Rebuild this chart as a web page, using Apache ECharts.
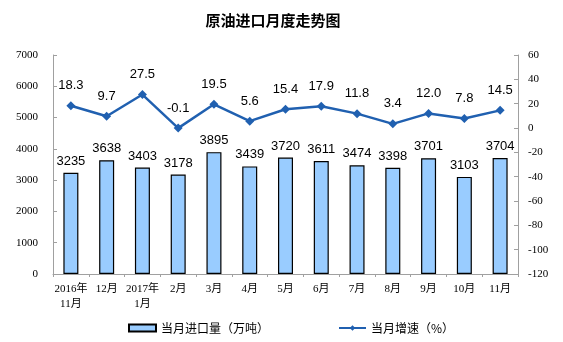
<!DOCTYPE html>
<html>
<head>
<meta charset="utf-8">
<script src="https://cdn.jsdelivr.net/npm/echarts@6/dist/echarts.min.js"></script>
<style>
html,body{margin:0;padding:0;background:#fff;}
#chart{width:563px;height:342px;}
</style>
</head>
<body>
<div id="chart"></div>
<script>
// Monthly crude oil imports (10k tonnes) and year-on-year growth (%)
const months = ['2016年\n11月', '12月', '2017年\n1月', '2月', '3月', '4月', '5月', '6月', '7月', '8月', '9月', '10月', '11月'];
const importVolume = [3235, 3638, 3403, 3178, 3895, 3439, 3720, 3611, 3474, 3398, 3701, 3103, 3704];
const growthRate = [18.3, 9.7, 27.5, -0.1, 19.5, 5.6, 15.4, 17.9, 11.8, 3.4, 12.0, 7.8, 14.5];

const serifFont = '"Liberation Serif", "Noto Sans CJK SC", serif';
const labelFont = '"Liberation Sans", Arial, sans-serif';

const chart = echarts.init(document.getElementById('chart'));
chart.setOption({
  animation: false,
  backgroundColor: '#ffffff',
  title: {
    text: '原油进口月度走势图',
    left: 268,
    textAlign: 'center',
    top: 8,
    textStyle: { fontFamily: '"Noto Sans CJK SC", sans-serif', fontSize: 15, fontWeight: 'bold', color: '#000' }
  },
  legend: {
    left: 123,
    top: 317,
    itemGap: 69,
    itemWidth: 27,
    itemHeight: 7,
    textStyle: { fontFamily: '"Noto Sans CJK SC", sans-serif', fontSize: 12, color: '#000' },
    data: [
      { name: '当月进口量（万吨）', icon: 'rect' },
      { name: '当月增速（%）' }
    ]
  },
  grid: { left: 53, right: 45, top: 55, bottom: 68 },
  xAxis: {
    type: 'category',
    data: months,
    boundaryGap: true,
    axisLine: { lineStyle: { color: '#a0a0a0', width: 1 } },
    axisTick: { show: true, length: 3, lineStyle: { color: '#a0a0a0' } },
    axisLabel: { interval: 0, fontFamily: serifFont, fontSize: 11, color: '#000', lineHeight: 15, margin: 8 }
  },
  yAxis: [
    {
      type: 'value', min: 0, max: 7000, interval: 1000,
      axisLine: { show: true, lineStyle: { color: '#a0a0a0' } },
      axisTick: { show: true, inside: true, length: 4, lineStyle: { color: '#a0a0a0' } },
      splitLine: { show: false },
      axisLabel: { fontFamily: serifFont, fontSize: 11, color: '#000', margin: 15, formatter: v => String(v) }
    },
    {
      type: 'value', min: -120, max: 60, interval: 20,
      axisLine: { show: true, lineStyle: { color: '#a0a0a0' } },
      axisTick: { show: true, inside: true, length: 4, lineStyle: { color: '#a0a0a0' } },
      splitLine: { show: false },
      axisLabel: { fontFamily: serifFont, fontSize: 11, color: '#000', margin: 10, formatter: v => String(v) }
    }
  ],
  series: [
    {
      name: '当月进口量（万吨）',
      type: 'bar',
      data: importVolume,
      barWidth: 15,
      itemStyle: { color: '#99ccff', borderColor: '#000', borderWidth: 1.2 },
      label: { show: true, position: 'top', distance: 5, fontFamily: labelFont, fontSize: 13, color: '#000' }
    },
    {
      name: '当月增速（%）',
      type: 'line',
      yAxisIndex: 1,
      data: growthRate,
      symbol: 'diamond',
      symbolSize: 9,
      lineStyle: { color: '#2060b0', width: 2.5 },
      itemStyle: { color: '#2060b0' },
      label: {
        show: true, position: 'top', distance: 9, fontFamily: labelFont, fontSize: 13, color: '#000',
        formatter: p => p.value.toFixed(1)
      }
    }
  ]
});
</script>
</body>
</html>
